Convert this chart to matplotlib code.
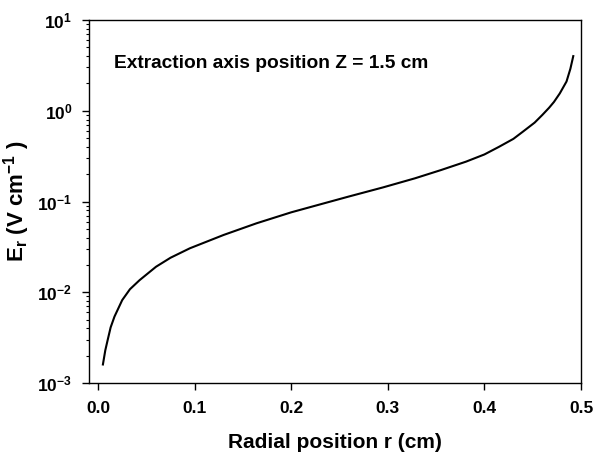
import math
import matplotlib
matplotlib.use("Agg")
import matplotlib.pyplot as plt
from matplotlib.ticker import LogLocator, FixedLocator, FuncFormatter, NullFormatter

plt.rcParams['font.family'] = ['Liberation Sans', 'DejaVu Sans']
plt.rcParams['font.weight'] = 'bold'
plt.rcParams['mathtext.fontset'] = 'custom'
plt.rcParams['mathtext.rm'] = 'Liberation Sans:bold'
plt.rcParams['mathtext.bf'] = 'Liberation Sans:bold'
plt.rcParams['mathtext.it'] = 'Liberation Sans:bold'

# radial position (cm) and radial field E_r (V/cm)
r_cm = [0.005, 0.0075, 0.01, 0.013, 0.017, 0.025, 0.033, 0.043, 0.06, 0.075, 0.095,
        0.13, 0.164, 0.2, 0.23, 0.259, 0.295, 0.328, 0.355, 0.381, 0.4, 0.415,
        0.43, 0.44, 0.452, 0.46, 0.467, 0.472, 0.478, 0.485, 0.489, 0.492]
E_r = [1.6e-3, 2.3e-3, 3.0e-3, 4.1e-3, 5.4e-3, 8.2e-3, 1.08e-2, 1.36e-2, 1.91e-2, 2.4e-2, 3.05e-2,
       4.28e-2, 5.75e-2, 7.6e-2, 9.3e-2, 0.113, 0.143, 0.18, 0.222, 0.275, 0.33, 0.40,
       0.49, 0.59, 0.74, 0.90, 1.08, 1.25, 1.55, 2.1, 2.9, 4.0]

x_ticks = [0.0, 0.1, 0.2, 0.3, 0.4, 0.5]

fig = plt.figure(figsize=(6.07, 4.54), dpi=100)
ax = fig.add_axes([89 / 607, 1 - 383 / 454, (581 - 89) / 607, (383 - 20) / 454])

ax.plot(r_cm, E_r, color='black', linewidth=1.5)
ax.set_yscale('log')
ax.set_ylim(1e-3, 1e1)
ax.set_xlim(-0.0094, 0.5)

ax.xaxis.set_major_locator(FixedLocator(x_ticks))
ax.xaxis.set_major_formatter(FuncFormatter(lambda v, p: '%.1f' % v))
ax.yaxis.set_major_locator(LogLocator(base=10, numticks=10))
ax.yaxis.set_minor_locator(LogLocator(base=10, subs=range(2, 10), numticks=20))
ax.yaxis.set_minor_formatter(NullFormatter())
ax.yaxis.set_major_formatter(FuncFormatter(lambda v, p: r'$\mathbf{10^{%d}}$' % round(math.log10(v))))

ax.tick_params(which='major', direction='out', length=5, width=1, labelsize=12.5)
ax.tick_params(axis='x', which='major', pad=8)
ax.tick_params(axis='y', which='major', pad=7)
ax.tick_params(which='minor', direction='out', length=2.5, width=0.8)
for s in ax.spines.values():
    s.set_linewidth(1)

ax.set_xlabel('Radial position r (cm)', fontsize=15, fontweight='bold', labelpad=12)
ax.set_ylabel(r'E$_\mathregular{r}$ (V cm$^\mathregular{-1}$ )', fontsize=16, fontweight='bold', labelpad=4)

ax.text(0.05, 0.868, 'Extraction axis position Z = 1.5 cm', transform=ax.transAxes,
        fontsize=13.8, fontweight='bold')

fig.savefig('out.png', dpi=100)
